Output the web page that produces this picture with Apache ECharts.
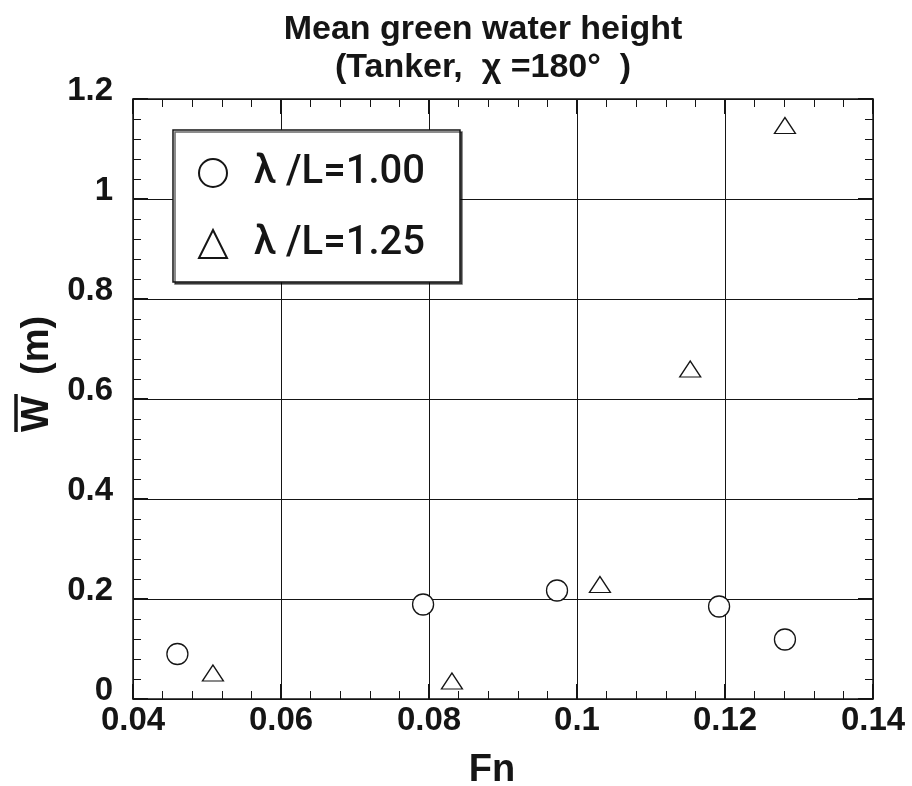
<!DOCTYPE html>
<html>
<head>
<meta charset="utf-8">
<script src="https://cdn.jsdelivr.net/npm/echarts@6/dist/echarts.min.js"></script>
<style>
  html, body { margin: 0; padding: 0; background: #fff; }
  #chart { width: 912px; height: 786px; }
</style>
</head>
<body>
<div id="chart"></div>
<script>
// Froude number and mean green water height for each wavelength ratio
const fnA = [0.0460, 0.0792, 0.0973, 0.1192, 0.1281];
const wA  = [0.090, 0.189, 0.217, 0.185, 0.119];
const fnB = [0.0508, 0.0831, 0.1031, 0.1153, 0.1281];
const wB  = [0.052, 0.036, 0.229, 0.660, 1.147];

const seriesNames = ['λ /L=1.00', 'λ /L=1.25'];
const titleLines = ['Mean green water height', '(Tanker,  χ =180°  )'];
const xName = 'Fn';
const yName = 'W  (m)';

const INK = '#151515';
const tickFont = { fontFamily: '"Liberation Sans", Arial, sans-serif', fontWeight: 'bold', fontSize: 33, color: INK };

const pairs = (xs, ys) => xs.map((x, i) => [x, ys[i]]);

const chart = echarts.init(document.getElementById('chart'), null, { renderer: 'canvas' });

const baseAxis = {
  type: 'value',
  axisLine: { show: true, onZero: false, lineStyle: { color: INK, width: 1.5 } },
  axisTick: { show: true, inside: true, length: 15, lineStyle: { color: INK, width: 2 } },
  minorTick: { show: true, splitNumber: 5, length: 8, lineStyle: { color: INK, width: 1 } },
  splitLine: { show: false },
  axisLabel: { show: false }
};

chart.setOption({
  animation: false,
  backgroundColor: '#fff',
  title: {
    text: titleLines.join('\n'),
    left: 483,
    top: 11,
    textAlign: 'center',
    padding: 0,
    textStyle: {
      fontFamily: '"Liberation Sans", Arial, sans-serif',
      fontWeight: 'bold',
      fontSize: 34,
      lineHeight: 38,
      color: INK
    }
  },
  legend: {
    orient: 'vertical',
    left: 173,
    top: 130,
    padding: [23, 35, 18, 25],
    itemGap: 31,
    itemWidth: 28,
    itemHeight: 28,
    backgroundColor: '#fff',
    borderColor: INK,
    borderWidth: 1.5,
    shadowColor: 'rgba(0,0,0,0.6)',
    shadowBlur: 0,
    shadowOffsetX: 2,
    shadowOffsetY: 2,
    textStyle: {
      fontFamily: 'Roboto, "Liberation Sans", sans-serif',
      fontWeight: 500,
      fontSize: 40,
      lineHeight: 40,
      color: INK,
      padding: [0, 0, 0, 22]
    },
    data: seriesNames
  },
  grid: { left: 133, right: 39, top: 99, bottom: 87, containLabel: false, outerBoundsMode: 'none' },
  xAxis: [
    Object.assign({}, baseAxis, {
      position: 'bottom',
      min: 0.04, max: 0.14, interval: 0.02,
      name: xName,
      nameLocation: 'middle',
      nameGap: 53,
      nameTextStyle: {
        fontFamily: '"Liberation Sans", Arial, sans-serif',
        fontWeight: 'bold', fontSize: 38, color: INK,
        padding: [0, 22, 0, 0]
      },
      axisLabel: Object.assign({ show: true, margin: 5,
        formatter: v => String(+v.toFixed(2)) }, tickFont),
      splitLine: { show: true, lineStyle: { color: INK, width: 1 } }
    }),
    Object.assign({}, baseAxis, {
      position: 'top',
      min: 0.04, max: 0.14, interval: 0.02
    })
  ],
  yAxis: [
    Object.assign({}, baseAxis, {
      position: 'left',
      min: 0, max: 1.2, interval: 0.2,
      axisLabel: Object.assign({ show: true, margin: 20,
        verticalAlign: 'bottom', lineHeight: 16,
        formatter: v => String(+v.toFixed(1)) }, tickFont),
      splitLine: { show: true, lineStyle: { color: INK, width: 1 } }
    }),
    Object.assign({}, baseAxis, {
      position: 'right',
      min: 0, max: 1.2, interval: 0.2
    })
  ],
  graphic: [{
    type: 'group',
    x: 38,
    y: 432,
    rotation: Math.PI / 2,
    children: [
      {
        type: 'text',
        x: 0, y: 0,
        style: {
          text: yName,
          font: 'bold 38px "Liberation Sans", Arial, sans-serif',
          textAlign: 'left',
          verticalAlign: 'middle',
          fill: INK
        }
      },
      {
        type: 'line',
        shape: { x1: 0, y1: -22, x2: 38, y2: -22 },
        style: { stroke: INK, lineWidth: 3.5 }
      }
    ]
  }],
  series: [
    {
      name: seriesNames[0],
      type: 'scatter',
      data: pairs(fnA, wA),
      symbol: 'circle',
      symbolSize: 21,
      itemStyle: { color: '#fff', borderColor: INK, borderWidth: 1.3, opacity: 1 },
      z: 5
    },
    {
      name: seriesNames[1],
      type: 'scatter',
      data: pairs(fnB, wB),
      symbol: 'triangle',
      symbolSize: [21, 16],
      itemStyle: { color: '#fff', borderColor: INK, borderWidth: 1.3, opacity: 1 },
      z: 5
    }
  ]
});
</script>
</body>
</html>
